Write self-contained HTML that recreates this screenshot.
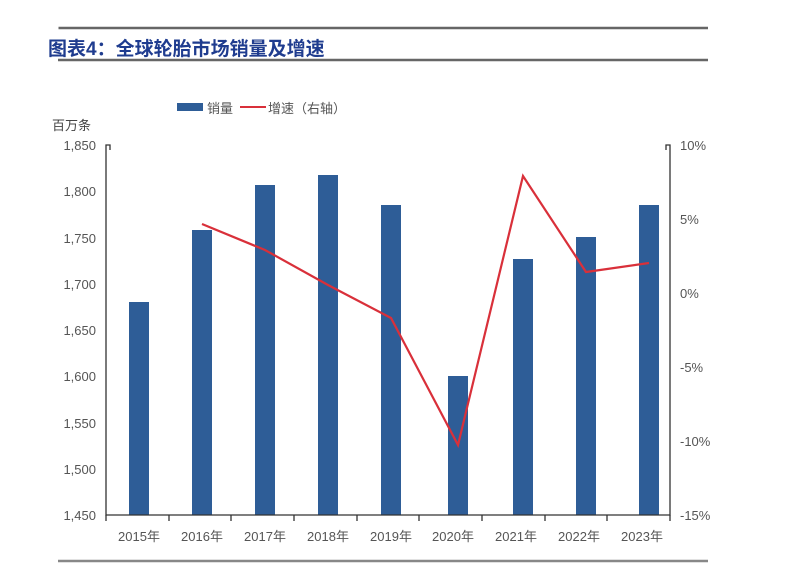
<!DOCTYPE html>
<html><head><meta charset="utf-8"><style>
body{margin:0;background:#fff;width:800px;height:568px;overflow:hidden;font-family:"Liberation Sans","Noto Sans CJK SC",sans-serif}
</style></head><body>
<svg width="800" height="568" viewBox="0 0 800 568" xmlns="http://www.w3.org/2000/svg" font-family="'Liberation Sans','Noto Sans CJK SC',sans-serif">
<line x1="39" y1="28" x2="472" y2="28" stroke="#666" stroke-width="2.5" transform="scale(1.5,1)"/>
<text x="48" y="55" font-size="19" font-weight="bold" fill="#1f3c8f">图表4：全球轮胎市场销量及增速</text>
<line x1="58" y1="60" x2="708" y2="60" stroke="#666" stroke-width="2.5"/>
<rect x="177" y="103" width="26" height="8" fill="#2e5d97"/>
<text x="207" y="113" font-size="13" fill="#555">销量</text>
<line x1="240" y1="107" x2="266" y2="107" stroke="#d9303a" stroke-width="2"/>
<text x="268" y="113" font-size="13" fill="#555">增速（右轴）</text>
<text x="52" y="130" font-size="13" fill="#444">百万条</text>
<g font-size="13" fill="#555" text-anchor="end">
<text x="96" y="150">1,850</text><text x="96" y="196">1,800</text><text x="96" y="243">1,750</text><text x="96" y="289">1,700</text><text x="96" y="335">1,650</text><text x="96" y="381">1,600</text><text x="96" y="428">1,550</text><text x="96" y="474">1,500</text><text x="96" y="520">1,450</text>
</g>
<g font-size="13" fill="#555">
<text x="680" y="150">10%</text><text x="680" y="224">5%</text><text x="680" y="298">0%</text><text x="680" y="372">-5%</text><text x="680" y="446">-10%</text><text x="680" y="520">-15%</text>
</g>
<g fill="#2e5d97">
<rect x="129" y="302" width="20" height="213"/>
<rect x="192" y="230" width="20" height="285"/>
<rect x="255" y="185" width="20" height="330"/>
<rect x="318" y="175" width="20" height="340"/>
<rect x="381" y="205" width="20" height="310"/>
<rect x="448" y="376" width="20" height="139"/>
<rect x="513" y="259" width="20" height="256"/>
<rect x="576" y="237" width="20" height="278"/>
<rect x="639" y="205" width="20" height="310"/>
</g>
<g stroke="#333" stroke-width="1.3" fill="none">
<path d="M110 150 V145 H106 V515 H670 V145 H666 V150"/>
<path d="M106 515 v6 M169 515 v6 M231 515 v6 M294 515 v6 M357 515 v6 M419 515 v6 M482 515 v6 M545 515 v6 M607 515 v6 M670 515 v6"/>
</g>
<polyline points="202,224 265,250 328,285 391,318 458,445 523,176 586,272 649,263" fill="none" stroke="#d9303a" stroke-width="2.2"/>
<g font-size="13" fill="#555" text-anchor="middle">
<text x="139" y="541">2015年</text><text x="202" y="541">2016年</text><text x="265" y="541">2017年</text><text x="328" y="541">2018年</text><text x="391" y="541">2019年</text><text x="453" y="541">2020年</text><text x="516" y="541">2021年</text><text x="579" y="541">2022年</text><text x="642" y="541">2023年</text>
</g>
<line x1="58" y1="561" x2="708" y2="561" stroke="#888" stroke-width="2.5"/>
</svg>
</body></html>
